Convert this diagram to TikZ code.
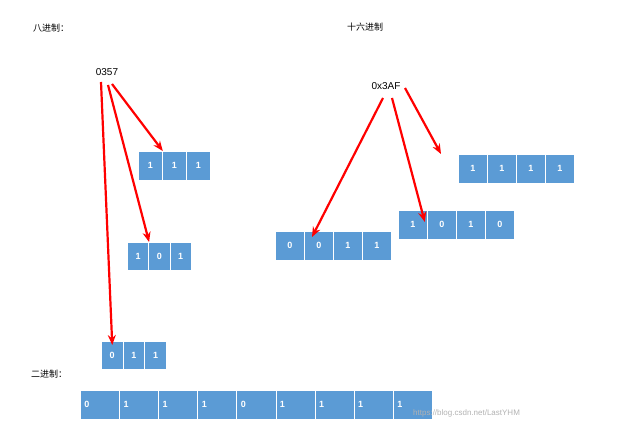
\documentclass[tikz,border=0pt]{standalone}
\usepackage{fontspec}
\setmainfont{Liberation Sans}
\newfontfamily\cjk{Noto Sans CJK SC}
\usetikzlibrary{arrows.meta}
\definecolor{cellblue}{HTML}{5B9BD5}
\definecolor{arrred}{HTML}{FF0000}
\tikzset{
 cell/.style={fill=cellblue,draw=white,line width=0.8pt,text=white,font=\bfseries\small,inner sep=0pt},
 redarrow/.style={draw=arrred,line width=2.2pt,-{Stealth[length=10pt,width=8pt]}},
 lbl/.style={font=\cjk\small,inner sep=0pt,anchor=west},
 num/.style={font=\normalsize,inner sep=0pt}
}
\newcommand{\cellrow}[6]{% name, x0, y0, w, h, list
 \foreach \v [count=\i] in {#6}{
  \node[cell,minimum width=#4pt,minimum height=#5pt,anchor=north west] (#1\i) at ({#2+(\i-1)*#4},#3) {\v};
 }}
\begin{document}
\begin{tikzpicture}[x=1pt,y=-1pt]
\useasboundingbox (0,0) rectangle (627,433);
\node[lbl] (oct) at (33,28) {八进制：};
\node[lbl] (hex) at (347,27) {十六进制};
\node[lbl] (bin) at (31,374) {二进制：};
\node[num] (n0357) at (107,72) {0357};
\node[num] (n3af) at (386,86) {0x3AF};
\cellrow{a}{138}{151}{24}{29}{1,1,1}
\cellrow{b}{127}{242}{21.3}{28}{1,0,1}
\cellrow{c}{101}{341}{21.7}{28}{0,1,1}
\cellrow{d}{275}{231}{29}{29}{0,0,1,1}
\cellrow{e}{398}{210}{29}{29}{1,0,1,0}
\cellrow{f}{458}{154}{29}{29}{1,1,1,1}
\foreach \v [count=\i] in {0,1,1,1,0,1,1,1,1}{
 \node[cell,minimum width=39.1pt,minimum height=29pt,anchor=north west,text width=31pt,align=left] (g\i) at ({80+(\i-1)*39.1},390) {\v};
}
\coordinate (s1) at (112,84); \coordinate (s2) at (108,85); \coordinate (s3) at (101,82);
\coordinate (t1) at (383,98); \coordinate (t2) at (392,98); \coordinate (t3) at (405,88);
\draw[redarrow] (s1) -- (a1.north east);
\draw[redarrow] (s2) -- (b1.north east);
\draw[redarrow] (s3) -- ([yshift=-4pt]c1.north);
\draw[redarrow] (t1) -- ([xshift=8pt,yshift=-6pt]d2.north west);
\draw[redarrow] (t2) -- ([xshift=-3pt,yshift=-12pt]e1.north east);
\draw[redarrow] (t3) -- ([xshift=-17pt]f1.north west);
\node[font=\footnotesize,text=gray!60,anchor=west,inner sep=0pt] (wm) at (413,413) {https://blog.csdn.net/LastYHM};
\end{tikzpicture}
\end{document}
